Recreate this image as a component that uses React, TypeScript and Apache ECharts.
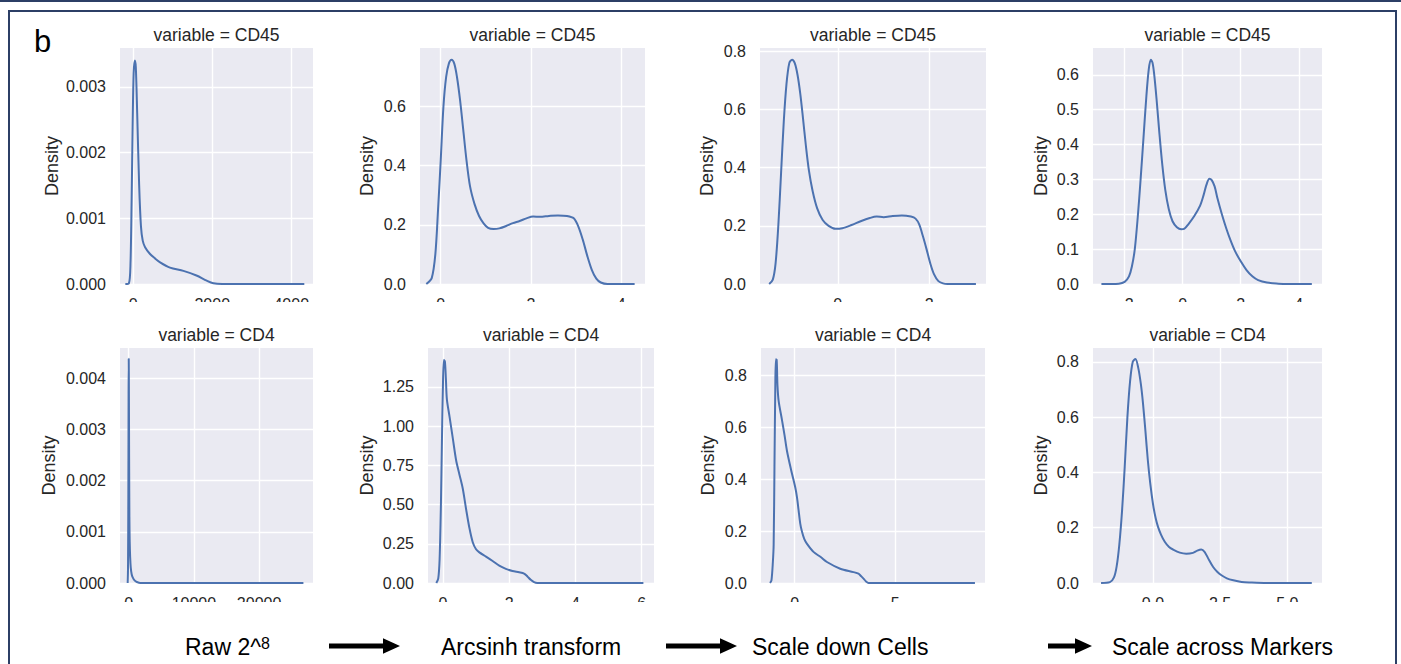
import React, { useEffect, useRef } from 'react';
import * as echarts from 'echarts';

const FONT = "'Liberation Sans', Arial, sans-serif";
const TEXT = '#262626';
const LINE = '#4c72b0';
const BG = '#eaeaf2';
const FRAME = '#2c3f66';

// ---- data: KDE curves ([x, density]) ----
const rawCD45: number[][] = [[-200,0],[-110,0.00001],[-70,0.0003],[-40,0.0013],[-15,0.0024],[10,0.0032],[40,0.0034],[65,0.0033],[100,0.0026],[150,0.0015],[195,0.00088],[240,0.00066],[300,0.00056],[420,0.00046],[550,0.00039],[680,0.00033],[930,0.00025],[1270,0.0002],[1600,0.00013],[1860,0.00005],[2030,0.00001],[2250,0],[4330,0]];
const arcsinhCD45: number[][] = [[-0.32,0],[-0.2,0.02],[-0.12,0.1],[-0.06,0.25],[0,0.42],[0.06,0.6],[0.12,0.7],[0.18,0.745],[0.24,0.758],[0.3,0.745],[0.36,0.7],[0.43,0.62],[0.5,0.52],[0.57,0.42],[0.65,0.33],[0.75,0.27],[0.85,0.23],[0.95,0.205],[1.05,0.19],[1.17,0.186],[1.3,0.188],[1.45,0.196],[1.6,0.206],[1.75,0.213],[1.9,0.222],[2.05,0.228],[2.2,0.227],[2.4,0.23],[2.6,0.232],[2.8,0.23],[2.95,0.222],[3.05,0.195],[3.15,0.15],[3.25,0.095],[3.35,0.048],[3.45,0.018],[3.55,0.005],[3.7,0],[4.3,0]];
const scaleCellsCD45: number[][] = [[-1.5,0],[-1.42,0.015],[-1.36,0.07],[-1.3,0.2],[-1.24,0.38],[-1.18,0.56],[-1.12,0.69],[-1.06,0.76],[-1.0,0.772],[-0.94,0.76],[-0.88,0.72],[-0.82,0.655],[-0.76,0.57],[-0.7,0.48],[-0.63,0.39],[-0.55,0.32],[-0.45,0.26],[-0.33,0.22],[-0.2,0.2],[-0.05,0.19],[0.1,0.192],[0.3,0.203],[0.5,0.216],[0.7,0.227],[0.85,0.232],[1.0,0.23],[1.2,0.234],[1.4,0.236],[1.6,0.232],[1.7,0.225],[1.78,0.205],[1.86,0.165],[1.94,0.12],[2.02,0.072],[2.1,0.035],[2.2,0.01],[2.3,0.002],[2.4,0],[3.02,0]];
const scaleMarkersCD45: number[][] = [[-2.8,0],[-2.2,0.001],[-2.0,0.006],[-1.85,0.022],[-1.75,0.05],[-1.65,0.1],[-1.55,0.19],[-1.45,0.3],[-1.35,0.42],[-1.25,0.54],[-1.17,0.615],[-1.1,0.643],[-1.04,0.635],[-0.98,0.6],[-0.9,0.53],[-0.8,0.43],[-0.7,0.34],[-0.6,0.27],[-0.48,0.215],[-0.35,0.18],[-0.2,0.163],[-0.05,0.157],[0.05,0.158],[0.2,0.172],[0.4,0.195],[0.6,0.225],[0.72,0.255],[0.82,0.285],[0.92,0.302],[1.0,0.298],[1.1,0.28],[1.2,0.245],[1.35,0.2],[1.5,0.16],[1.65,0.125],[1.8,0.095],[2.0,0.065],[2.2,0.04],[2.4,0.022],[2.6,0.011],[2.9,0.004],[3.3,0.001],[3.6,0],[4.45,0]];
const rawCD4: number[][] = [[-160,0],[-110,0.0003],[-60,0.0017],[-25,0.0037],[0,0.00438],[25,0.0038],[60,0.0024],[100,0.0013],[150,0.0008],[220,0.0005],[310,0.0003],[450,0.00017],[610,0.00011],[900,0.00005],[1250,0.00002],[1800,0],[26800,0]];
const arcsinhCD4: number[][] = [[-0.2,0],[-0.14,0.03],[-0.1,0.15],[-0.06,0.5],[-0.03,0.9],[0,1.25],[0.03,1.42],[0.06,1.41],[0.09,1.3],[0.12,1.17],[0.2,1.06],[0.3,0.92],[0.4,0.78],[0.5,0.69],[0.6,0.6],[0.7,0.47],[0.8,0.35],[0.9,0.26],[1.0,0.215],[1.1,0.195],[1.3,0.168],[1.5,0.14],[1.7,0.11],[1.9,0.09],[2.1,0.076],[2.3,0.068],[2.45,0.06],[2.55,0.042],[2.65,0.02],[2.75,0.005],[2.85,0],[6.05,0]];
const scaleCellsCD4: number[][] = [[-1.22,0],[-1.15,0.01],[-1.08,0.08],[-1.04,0.15],[-1.0,0.45],[-0.96,0.75],[-0.93,0.863],[-0.89,0.86],[-0.85,0.76],[-0.79,0.7],[-0.63,0.63],[-0.5,0.57],[-0.38,0.51],[-0.17,0.435],[0.03,0.37],[0.12,0.33],[0.2,0.28],[0.28,0.23],[0.36,0.2],[0.48,0.17],[0.61,0.152],[0.94,0.12],[1.3,0.1],[1.61,0.081],[2.27,0.055],[2.93,0.042],[3.18,0.036],[3.3,0.027],[3.43,0.017],[3.55,0.006],[3.68,0],[8.97,0]];
const scaleMarkersCD4: number[][] = [[-1.93,0],[-1.6,0.003],[-1.45,0.02],[-1.35,0.06],[-1.25,0.14],[-1.15,0.26],[-1.05,0.42],[-0.95,0.6],[-0.85,0.73],[-0.75,0.8],[-0.65,0.81],[-0.55,0.78],[-0.45,0.72],[-0.37,0.65],[-0.28,0.55],[-0.19,0.444],[-0.1,0.36],[0,0.287],[0.1,0.235],[0.19,0.203],[0.3,0.175],[0.44,0.149],[0.6,0.13],[0.75,0.121],[1.0,0.11],[1.24,0.106],[1.49,0.109],[1.65,0.117],[1.8,0.121],[1.92,0.113],[2.05,0.09],[2.24,0.058],[2.4,0.04],[2.55,0.028],[2.75,0.017],[2.99,0.01],[3.3,0.004],[3.61,0.002],[4.23,0],[5.91,0]];

const panelData = [rawCD45, arcsinhCD45, scaleCellsCD45, scaleMarkersCD45, rawCD4, arcsinhCD4, scaleCellsCD4, scaleMarkersCD4];
const panelTitles = ['variable = CD45', 'variable = CD45', 'variable = CD45', 'variable = CD45', 'variable = CD4', 'variable = CD4', 'variable = CD4', 'variable = CD4'];
const yAxisName = 'Density';
const stepLabels = ['Arcsinh transform', 'Scale down Cells', 'Scale across Markers'];
const panelLetter = 'b';

// ---- axis ticks and limits ----
const xTicks = [[0, 2000, 4000], [0, 2, 4], [0, 2], [-2, 0, 2, 4], [0, 10000, 20000], [0, 2, 4, 6], [0, 5], [0, 2.5, 5]];
const yTicks = [
  [0, 0.001, 0.002, 0.003], [0, 0.2, 0.4, 0.6], [0, 0.2, 0.4, 0.6, 0.8], [0, 0.1, 0.2, 0.3, 0.4, 0.5, 0.6],
  [0, 0.001, 0.002, 0.003, 0.004], [0, 0.25, 0.5, 0.75, 1.0, 1.25], [0, 0.2, 0.4, 0.6, 0.8], [0, 0.2, 0.4, 0.6, 0.8],
];
const xLimits = [[-335, 4550], [-0.46, 4.53], [-1.7, 3.24], [-3.09, 4.8], [-1340, 28270], [-0.45, 6.37], [-1.67, 9.47], [-2.23, 6.29]];
const yLimits = [[0, 0.00359], [0, 0.798], [0, 0.812], [0, 0.677], [0, 0.00459], [0, 1.497], [0, 0.906], [0, 0.85]];
const yDecimals = [3, 1, 1, 1, 3, 2, 1, 1];
const xDecimals = [0, 0, 0, 0, 0, 0, 0, 1];

// ---- layout (pixels) ----
const rects = [
  { l: 120, t: 48, w: 193, h: 236 },
  { l: 420, t: 48, w: 225, h: 236 },
  { l: 760, t: 48, w: 226, h: 236 },
  { l: 1093, t: 48, w: 229, h: 236 },
  { l: 120, t: 348, w: 193, h: 235 },
  { l: 428, t: 348, w: 226, h: 235 },
  { l: 761, t: 348, w: 224, h: 235 },
  { l: 1093, t: 348, w: 229, h: 235 },
];
const nameGaps = [59, 44, 44, 43, 62, 52, 44, 43];

const fmtNum = (v: number, d: number) => {
  const s = Math.abs(v).toFixed(d);
  return v < 0 ? '\u2212' + s : s;
};

function arrow(x0: number, x1: number, cy: number) {
  const head = 17;
  const xh = x1 - head;
  return {
    type: 'polygon',
    z: 50,
    shape: {
      points: [[x0, cy - 2.6], [xh, cy - 2.6], [xh, cy - 7.8], [x1, cy], [xh, cy + 7.8], [xh, cy + 2.6], [x0, cy + 2.6]],
    },
    style: { fill: '#000' },
  };
}

export default function App() {
  const ref = useRef<HTMLDivElement>(null);
  useEffect(() => {
    if (!ref.current) return;
    const chart = echarts.init(ref.current, undefined, { renderer: 'svg' });
    const grids = rects.map((r) => ({
      left: r.l, top: r.t, width: r.w, height: r.h,
      show: true, backgroundColor: BG, borderWidth: 0,
      containLabel: false, outerBoundsMode: 'none',
    }));
    const xAxes = rects.map((_, i) => ({
      type: 'value', gridIndex: i,
      min: xLimits[i][0], max: xLimits[i][1],
      axisLine: { show: false },
      axisTick: { show: false, customValues: xTicks[i] },
      splitLine: { show: true, lineStyle: { color: '#ffffff', width: 1.4 } },
      axisLabel: {
        customValues: xTicks[i], margin: 12, color: TEXT, fontSize: 16, fontFamily: FONT,
        formatter: (v: number) => fmtNum(v, xDecimals[i]),
      },
    }));
    const yAxes = rects.map((_, i) => ({
      type: 'value', gridIndex: i,
      min: yLimits[i][0], max: yLimits[i][1],
      name: yAxisName, nameLocation: 'middle', nameGap: nameGaps[i],
      nameTextStyle: { color: TEXT, fontSize: 18, fontFamily: FONT },
      axisLine: { show: false },
      axisTick: { show: false, customValues: yTicks[i] },
      splitLine: { show: true, lineStyle: { color: '#ffffff', width: 1.4 } },
      axisLabel: {
        customValues: yTicks[i], margin: 14, color: TEXT, fontSize: 16, fontFamily: FONT,
        formatter: (v: number) => fmtNum(v, yDecimals[i]),
      },
    }));
    const series = panelData.map((d, i) => ({
      type: 'line', xAxisIndex: i, yAxisIndex: i, data: d,
      showSymbol: false, symbol: 'none', smooth: 0.3,
      lineStyle: { color: LINE, width: 2 }, clip: true,
    }));

    const titles = rects.map((r, i) => ({
      type: 'text', x: r.l + r.w / 2, y: i < 4 ? 35 : 335, z: 50,
      style: { text: panelTitles[i], align: 'center', verticalAlign: 'middle', fontSize: 17.5, fontFamily: FONT, fill: TEXT },
    }));

    const graphic: any[] = [
      // frame
      { type: 'rect', z: 60, shape: { x: 0, y: 0, width: 1401, height: 2 }, style: { fill: FRAME } },
      { type: 'rect', z: 60, shape: { x: 9, y: 11, width: 1387, height: 700 }, style: { fill: 'none', stroke: FRAME, lineWidth: 2 } },
      // crop of the tick labels, as in the picture
      { type: 'rect', z: 55, shape: { x: 12, y: 302, width: 1381, height: 16 }, style: { fill: '#ffffff' } },
      { type: 'rect', z: 55, shape: { x: 12, y: 602, width: 1381, height: 18 }, style: { fill: '#ffffff' } },
      ...titles,
      {
        type: 'text', x: 34, y: 41.5, z: 50,
        style: { text: panelLetter, align: 'left', verticalAlign: 'middle', fontSize: 31, fontFamily: FONT, fill: '#000' },
      },
      {
        type: 'text', x: 185, y: 647, z: 50,
        style: {
          text: '{n|Raw 2^}{s|8}', align: 'left', verticalAlign: 'middle',
          rich: {
            n: { fontSize: 23, fontFamily: FONT, fill: '#000' },
            s: { fontSize: 16, fontFamily: FONT, fill: '#000', verticalAlign: 'top' },
          },
        },
      },
      {
        type: 'text', x: 441, y: 647, z: 50,
        style: { text: stepLabels[0], align: 'left', verticalAlign: 'middle', fontSize: 23, fontFamily: FONT, fill: '#000' },
      },
      {
        type: 'text', x: 752, y: 647, z: 50,
        style: { text: stepLabels[1], align: 'left', verticalAlign: 'middle', fontSize: 23, fontFamily: FONT, fill: '#000' },
      },
      {
        type: 'text', x: 1112, y: 647, z: 50,
        style: { text: stepLabels[2], align: 'left', verticalAlign: 'middle', fontSize: 23, fontFamily: FONT, fill: '#000' },
      },
      arrow(329, 400, 646),
      arrow(666, 737, 646),
      arrow(1048, 1092, 646),
    ];

    chart.setOption({
      animation: false,
      backgroundColor: '#ffffff',
      grid: grids,
      xAxis: xAxes,
      yAxis: yAxes,
      series,
      graphic,
    } as any);
    return () => chart.dispose();
  }, []);
  return <div ref={ref} style={{ position: 'absolute', left: 0, top: 0, width: 1401, height: 664 }} />;
}
